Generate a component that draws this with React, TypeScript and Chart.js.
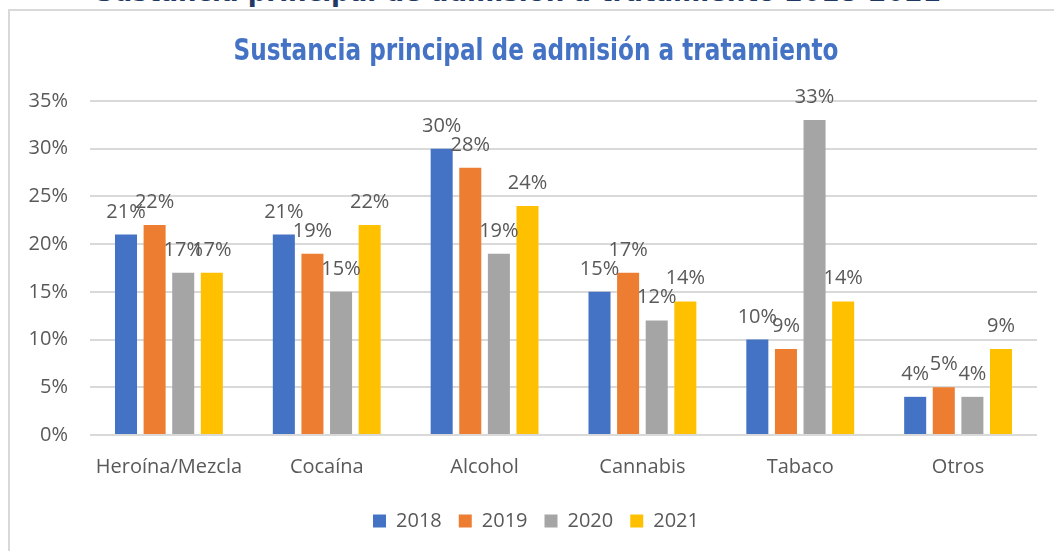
import React, { useEffect, useRef } from "react";
import { Chart, registerables } from "chart.js";

Chart.register(...registerables);

const categories = ["Heroína/Mezcla", "Cocaína", "Alcohol", "Cannabis", "Tabaco", "Otros"];
const years = ["2018", "2019", "2020", "2021"];
const values2018 = [21, 21, 30, 15, 10, 4];
const values2019 = [22, 19, 28, 17, 9, 5];
const values2020 = [17, 15, 19, 12, 33, 4];
const values2021 = [17, 22, 24, 14, 14, 9];
const seriesColors = ["#4472C4", "#ED7D31", "#A5A5A5", "#FFC000"];
const yTicks = [0, 5, 10, 15, 20, 25, 30, 35];

const chartTitle = "Sustancia principal de admisión a tratamiento";
const pageTitle = "Sustancia principal de admisión a tratamiento 2018-2021";

const TEXT = "#595959";
const FONT = "'Open Sans', 'Noto Sans', sans-serif";
const TITLE_FONT = "'DejaVu Sans Condensed', 'Lato', sans-serif";

const labelPlugin = {
  id: "barLabels",
  afterDatasetsDraw(chart: any) {
    const ctx = chart.ctx;
    ctx.save();
    ctx.font = `20px ${FONT}`;
    ctx.fillStyle = TEXT;
    ctx.textAlign = "center";
    ctx.textBaseline = "alphabetic";
    chart.data.datasets.forEach((ds: any, i: number) => {
      const meta = chart.getDatasetMeta(i);
      meta.data.forEach((el: any, j: number) => {
        ctx.fillText(ds.data[j] + "%", el.x, el.y - 17);
      });
    });
    ctx.restore();
  },
};

// Draws the chart title condensed horizontally (Calibri-like proportions)
const titlePlugin = {
  id: "narrowTitle",
  afterDraw(chart: any) {
    const ctx = chart.ctx;
    const t = chart.titleBlock;
    if (!t) return;
    ctx.save();
    ctx.font = `bold 30px ${TITLE_FONT}`;
    ctx.fillStyle = "#4472C4";
    ctx.textAlign = "center";
    ctx.textBaseline = "alphabetic";
    const w = ctx.measureText(chartTitle).width;
    const sx = 605 / w;
    const cx = (t.left + t.right) / 2;
    ctx.translate(cx, 60);
    ctx.scale(sx, 1);
    ctx.fillText(chartTitle, 0, 0);
    ctx.restore();
  },
};

export default function App() {
  const ref = useRef<HTMLCanvasElement>(null);

  useEffect(() => {
    if (!ref.current) return;
    const all = [values2018, values2019, values2020, values2021];
    const chart = new Chart(ref.current, {
      type: "bar",
      data: {
        labels: categories,
        datasets: years.map((y, i) => ({
          label: y,
          data: all[i],
          backgroundColor: seriesColors[i],
          borderWidth: 0,
          barPercentage: 0.77,
          categoryPercentage: 0.725,
        })),
      },
      options: {
        animation: false,
        responsive: false,
        maintainAspectRatio: false,
        layout: { padding: { left: 0, right: 0, top: 0, bottom: 10 } },
        plugins: {
          title: {
            display: true,
            text: chartTitle,
            color: "rgba(0,0,0,0)",
            font: { family: TITLE_FONT, size: 30, weight: "bold" },
            padding: { top: 31, bottom: 34 },
          },
          legend: {
            position: "bottom",
            labels: {
              color: TEXT,
              font: { family: FONT, size: 20 },
              boxWidth: 13,
              boxHeight: 13,
              padding: 17,
            },
          },
          tooltip: { enabled: false },
        },
        scales: {
          x: {
            grid: { display: false, drawTicks: false },
            border: { display: false },
            ticks: { color: TEXT, font: { family: FONT, size: 20 }, padding: 20 },
            afterFit(scale: any) {
              scale.height = 59;
            },
          },
          y: {
            min: 0,
            max: 35,
            afterBuildTicks(scale: any) {
              scale.ticks = yTicks.map((v) => ({ value: v }));
            },
            grid: { color: "#d9d9d9", lineWidth: 2, drawTicks: false },
            border: { display: false },
            ticks: {
              color: TEXT,
              font: { family: FONT, size: 20 },
              padding: 22,
              callback: (v: any) => v + "%",
            },
            afterFit(scale: any) {
              scale.width = 90;
            },
          },
          yRight: {
            position: "right",
            display: true,
            grid: { display: false, drawTicks: false },
            border: { display: false },
            ticks: { display: false },
            afterFit(scale: any) {
              scale.width = 35;
            },
          },
        },
      },
      plugins: [labelPlugin, titlePlugin],
    });
    return () => chart.destroy();
  }, []);

  return (
    <div
      style={{
        position: "fixed",
        left: 0,
        top: 0,
        width: 1054,
        height: 551,
        overflow: "hidden",
        background: "#fff",
      }}
    >
      <div
        style={{
          position: "absolute",
          left: 95,
          top: -23,
          whiteSpace: "nowrap",
          fontFamily: TITLE_FONT,
          fontWeight: "bold",
          fontSize: 29,
          lineHeight: "29px",
          color: "#1F3864",
        }}
      >
        {pageTitle}
      </div>
      <div
        style={{
          position: "absolute",
          left: 8,
          top: 9,
          width: 1100,
          height: 600,
          border: "2px solid #d9d9d9",
          background: "#fff",
        }}
      />
      <canvas
        ref={ref}
        width={1072}
        height={551}
        style={{ position: "absolute", left: 0, top: 0, width: 1072, height: 551 }}
      />
    </div>
  );
}
